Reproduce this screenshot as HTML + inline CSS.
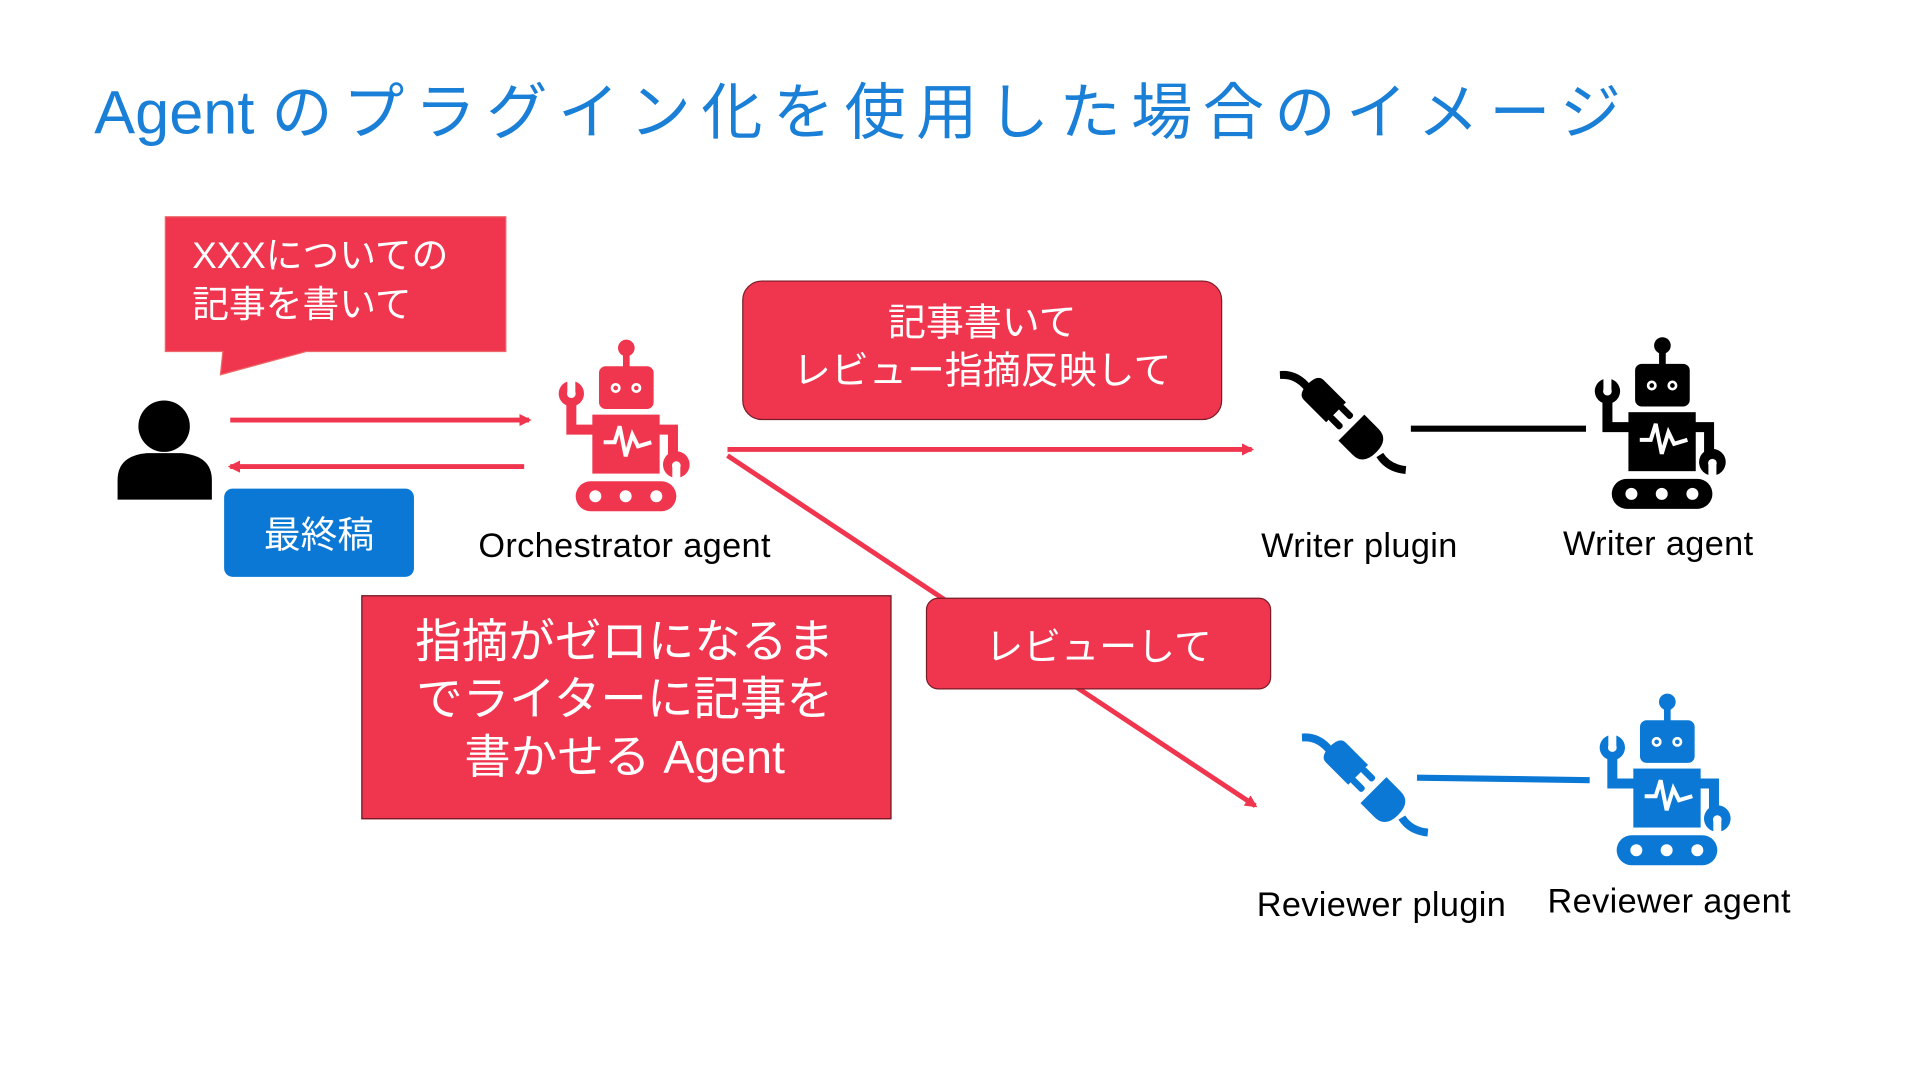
<!DOCTYPE html>
<html><head><meta charset="utf-8"><style>
html,body{margin:0;padding:0;background:#fff;width:1920px;height:1080px;overflow:hidden}
#w{position:absolute;left:0;top:0;width:1568px;height:882px;transform:scale(1.2247);transform-origin:0 0;font-family:"Liberation Sans","Noto Sans CJK JP",sans-serif}
.a{position:absolute}
.t{position:absolute;white-space:nowrap;text-align:center}
.red{background:#F0364F;color:#fff}
.lb{font-size:28px;letter-spacing:0.3px}
</style></head><body><div id="w">
<svg class="a" style="left:0;top:0" width="1568" height="882" viewBox="0 0 1568 882">
<defs>
<marker id="ar" markerWidth="10" markerHeight="10" refX="8" refY="5" orient="auto" markerUnits="userSpaceOnUse"><path d="M0,0 L10,5 L0,10 Z" fill="#F0364F"/></marker>
</defs>
<path d="M135,177 H413 V287 H250 L180,306 L182,287 H135 Z" fill="#F0364F" stroke="#e66" stroke-width="1"/>
<circle cx="134" cy="348" r="21" fill="#000"/>
<path d="M96,408 V392 Q96,372 120,370 H148 Q173,372 173,392 V408 Z" fill="#000"/>
<line x1="188" y1="343" x2="432" y2="343" stroke="#F0364F" stroke-width="4" marker-end="url(#ar)"/>
<line x1="428" y1="381" x2="188" y2="381" stroke="#F0364F" stroke-width="4" marker-end="url(#ar)"/>
<line x1="594" y1="367" x2="1022" y2="367" stroke="#F0364F" stroke-width="4" marker-end="url(#ar)"/>
<line x1="594" y1="372" x2="1025" y2="658" stroke="#F0364F" stroke-width="4" marker-end="url(#ar)"/>
<line x1="1152" y1="350" x2="1295" y2="350" stroke="#000" stroke-width="5"/>
<line x1="1157" y1="635" x2="1298" y2="637" stroke="#0A78D4" stroke-width="5"/>
</svg>
<div class="t" style="left:77px;top:52px;font-size:50px;color:#1A7FD6;text-align:left">Agent <span style="letter-spacing:8.5px">のプラグイン化を使用した場合のイメージ</span></div>
<div class="t" style="left:157px;top:190px;font-size:30px;color:#fff;text-align:left;line-height:40px">XXXについての<br>記事を書いて</div>
<div class="a" style="left:183px;top:399px;width:155px;height:72px;background:#0A78D4;border-radius:7px"></div>
<div class="t" style="left:183px;top:412px;width:155px;font-size:30px;color:#fff">最終稿</div>
<div class="a red" style="left:606px;top:229px;width:390px;height:112px;border-radius:16px;border:1.5px solid #7a1c28"></div>
<div class="t" style="left:606px;top:244px;width:392px;font-size:31px;color:#fff;line-height:39px">記事書いて<br>レビュー指摘反映して</div>
<div class="a red" style="left:295px;top:486px;width:431px;height:181px;border:1.5px solid #6a1a22"></div>
<div class="t" style="left:290px;top:502px;width:440px;font-size:38px;color:#fff;line-height:47px">指摘がゼロになるま<br>でライターに記事を<br>書かせる Agent</div>
<div class="a red" style="left:756px;top:488px;width:280px;height:73px;border-radius:10px;border:1.5px solid #7a1c28"></div>
<div class="t" style="left:756px;top:503px;width:282px;font-size:31px;color:#fff">レビューして</div>
<div class="t lb" style="left:360px;top:430px;width:300px">Orchestrator agent</div>
<div class="t lb" style="left:990px;top:430px;width:240px">Writer plugin</div>
<div class="t lb" style="left:1234px;top:428px;width:240px">Writer agent</div>
<div class="t lb" style="left:1000px;top:723px;width:256px">Reviewer plugin</div>
<div class="t lb" style="left:1233px;top:720px;width:260px">Reviewer agent</div>

<svg width="0" height="0" style="position:absolute"><defs>
<g id="robot" fill="currentColor" stroke="currentColor" stroke-width="0">
<circle cx="380" cy="85" r="25"/>
<rect x="370" y="100" width="20" height="45"/>
<rect x="298" y="140" width="164" height="128" rx="20"/>
<rect x="278" y="285" width="202" height="177"/>
<path d="M215,240 V330 H285" fill="none" stroke-width="30"/>
<path d="M475,330 H520 V420" fill="none" stroke-width="30"/>
<circle cx="215" cy="222" r="38"/>
<circle cx="530" cy="435" r="40"/>
<rect x="228" y="485" width="302" height="90" rx="45"/>
<g fill="#fff" stroke="none">
<circle cx="348" cy="205" r="15"/><circle cx="410" cy="205" r="15"/>
<circle cx="287" cy="530" r="18"/><circle cx="378" cy="530" r="18"/><circle cx="470" cy="530" r="18"/>
<rect x="203" y="180" width="24" height="40"/>
<circle cx="215" cy="222" r="13"/>
<rect x="518" y="440" width="24" height="40"/>
<circle cx="530" cy="438" r="13"/>
</g>
<circle cx="348" cy="205" r="7" stroke="none"/><circle cx="410" cy="205" r="7" stroke="none"/>
<polyline points="312,368 345,368 360,320 378,410 398,345 415,380 455,368" fill="none" stroke="#fff" stroke-width="12"/>
</g>
<g id="plug" fill="currentColor" stroke="currentColor" stroke-width="0">
<path d="M0,45 Q50,40 85,85" fill="none" stroke-width="24"/>
<path d="M300,285 Q325,325 378,330" fill="none" stroke-width="24"/>
<g transform="translate(190,178) rotate(45)">
<path d="M-125,-42 H-30 V42 H-125 Q-150,42 -150,0 Q-150,-42 -125,-42 Z"/>
<rect x="-35" y="-32" width="50" height="20" rx="8"/>
<rect x="-35" y="12" width="50" height="20" rx="8"/>
<path d="M35,-55 H95 Q140,-55 140,0 Q140,55 95,55 H35 Z"/>
</g>
</g>
</defs></svg>

<svg class="a" style="left:408.3px;top:261.3px;color:#F0364F" width="204.1" height="179.6" viewBox="0 0 750 660"><use href="#robot"/></svg>
<svg class="a" style="left:1254px;top:259.3px;color:#000" width="204.1" height="179.6" viewBox="0 0 750 660"><use href="#robot"/></svg>
<svg class="a" style="left:1257.5px;top:550.3px;color:#0A78D4" width="204.1" height="179.6" viewBox="0 0 750 660"><use href="#robot"/></svg>
<svg class="a" style="left:1045.2px;top:293.9px;color:#000" width="138.8" height="114.3" viewBox="0 0 510 420"><use href="#plug"/></svg>
<svg class="a" style="left:1062.5px;top:589.9px;color:#0A78D4" width="138.8" height="114.3" viewBox="0 0 510 420"><use href="#plug"/></svg>
</div></body></html>
